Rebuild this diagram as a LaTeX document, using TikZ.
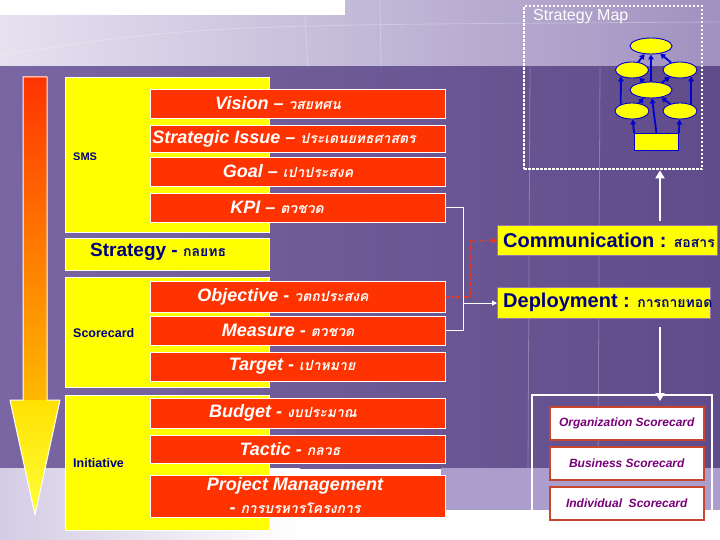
\documentclass[tikz,border=0pt]{standalone}
\usepackage{fontspec}
\setmainfont{Liberation Sans}
\newfontfamily\thaifont[Script=Thai]{Loma}
\usetikzlibrary{shapes.geometric,arrows.meta,calc}
\definecolor{cRed}{RGB}{255,51,0}
\definecolor{cYel}{RGB}{255,255,0}
\definecolor{cNavy}{RGB}{0,0,128}
\definecolor{purL}{RGB}{122,102,162}
\definecolor{purR}{RGB}{96,76,138}
\definecolor{topL}{RGB}{230,226,240}
\definecolor{topR}{RGB}{160,145,192}
\definecolor{lavB}{RGB}{212,204,228}
\definecolor{lPur}{RGB}{172,158,204}
\definecolor{scBord}{RGB}{200,70,45}
\definecolor{scText}{RGB}{120,0,120}
\definecolor{dRed}{RGB}{235,55,30}
\definecolor{mBlue}{RGB}{0,0,210}
\definecolor{comBord}{RGB}{150,120,175}
\newcommand\thx[1]{{\thaifont\fontsize{14}{16}\selectfont #1}}
\begin{document}
\begin{tikzpicture}[x=1pt,y=-1pt,
  ypanel/.style={draw=white, line width=0.8pt, fill=cYel, anchor=north west, inner sep=0},
  rbox/.style={draw=white, line width=0.8pt, fill=cRed, anchor=north west, minimum width=295pt, inner sep=0},
  rtxt/.style={text=white, inner sep=0, font=\fontsize{18}{23}\selectfont\bfseries\itshape},
  ylab/.style={text=cNavy, inner sep=0, anchor=west, font=\fontsize{12.5}{14}\selectfont\bfseries},
  cbox/.style={draw=comBord, line width=1.2pt, fill=cYel, anchor=north west, inner sep=0},
  ctxt/.style={text=cNavy, inner sep=0, anchor=west, font=\fontsize{20}{22}\selectfont\bfseries},
  sbox/.style={draw=scBord, line width=1.5pt, fill=white, anchor=north west, minimum width=154pt, minimum height=33pt, inner sep=0, text=scText, font=\fontsize{12}{14}\selectfont\bfseries\itshape},
  mell/.style={ellipse, draw=mBlue, line width=0.9pt, fill=cYel, inner sep=0},
  marr/.style={draw=mBlue, line width=1.8pt, -{Triangle[length=5pt,width=5.5pt]}},
  wline/.style={draw=white, line width=1.1pt},
  warr/.style={draw=white, line width=2.2pt, -{Triangle[length=8pt,width=9pt]}},
  wthin/.style={draw=white, line width=1.1pt, -{Triangle[length=5pt,width=5pt]}}]
\useasboundingbox (0,0) rectangle (720,540);
% background
\fill[white] (0,0) rectangle (720,540);
\shade[left color=topL, right color=topR] (0,0) rectangle (720,67);
\fill[white] (0,0) rectangle (345,15);
\shade[left color=purL, right color=purR] (0,67) rectangle (720,468);
\shade[left color=lavB, right color=white] (0,468) rectangle (300,540);
\fill[lPur] (441,468) rectangle (720,510);
\draw[white, opacity=0.25, line width=0.8pt] (305,15) -- (308,67) (380,0) -- (381,67) (530,67) -- (528,468) (600,67) -- (598,468) (0,55) .. controls (200,25) .. (720,22);
% left arrow
\shade[top color=cRed, middle color={rgb,255:red,255;green,140;blue,0}, bottom color={rgb,255:red,255;green,185;blue,0}] (23,77) rectangle (47,400);
\shade[top color={rgb,255:red,255;green,225;blue,0}, bottom color={rgb,255:red,255;green,255;blue,60}] (10,400) -- (60,400) -- (35,515) -- cycle;
\draw[white, line width=1pt, line join=round] (23,77) -- (47,77) -- (47,400) -- (60,400) -- (35,515) -- (10,400) -- (23,400) -- cycle;
% yellow panels
\node[ypanel, minimum width=204pt, minimum height=155pt] (smsp) at (65,77) {};
\node[ypanel, minimum width=204pt, minimum height=32pt] (stratp) at (65,238) {};
\node[ypanel, minimum width=204pt, minimum height=110pt] (scp) at (65,277) {};
\node[ypanel, minimum width=204pt, minimum height=135pt] (inip) at (65,395) {};
\node[ylab, font=\fontsize{11}{13}\selectfont\bfseries] (smst) at (73,157) {SMS};
\node[ylab, font=\fontsize{19}{21}\selectfont\bfseries] (stratt) at (90,252) {Strategy - \thx{กลยทธ}};
\node[ylab] (sct) at (73,333) {Scorecard};
\node[ylab] (init) at (73,463) {Initiative};
% red boxes
\node[rbox, minimum height=29pt] (vision) at (150,89) {};
\node[rbox, minimum height=27pt] (issue) at (150,125) {};
\node[rbox, minimum height=29pt] (goal) at (150,157) {};
\node[rbox, minimum height=29pt] (kpi) at (150,193) {};
\node[rbox, minimum height=31pt] (obj) at (150,281) {};
\node[rbox, minimum height=29pt] (meas) at (150,316) {};
\node[rbox, minimum height=29pt] (targ) at (150,352) {};
\node[rbox, minimum height=30pt] (budg) at (150,398) {};
\node[rbox, minimum height=28pt] (tact) at (150,435) {};
\node[rbox, minimum height=42pt] (pm) at (150,475) {};
\node[rtxt] (visiont) at (278,103.5) {Vision – \thx{วสยทศน}};
\node[rtxt] (issuet) at (284,138.5) {Strategic Issue – \thx{ประเดนยทธศาสตร}};
\node[rtxt] (goalt) at (288,171.5) {Goal – \thx{เปาประสงค}};
\node[rtxt] (kpit) at (277,207.5) {KPI – \thx{ตวชวด}};
\node[rtxt] (objt) at (283,296.5) {Objective - \thx{วตถประสงค}};
\node[rtxt] (meast) at (288,330.5) {Measure - \thx{ตวชวด}};
\node[rtxt] (targt) at (292,366.5) {Target - \thx{เปาหมาย}};
\node[rtxt] (budgt) at (283,413) {Budget - \thx{งบประมาณ}};
\node[rtxt] (tactt) at (290,449) {Tactic - \thx{กลวธ}};
\node[rtxt, align=center] (pmt) at (295,496) {Project Management\\- \thx{การบรหารโครงการ}};
% strategy map
\node[draw=white, line width=2.4pt, dash pattern=on 2.4pt off 1.6pt, anchor=north west, minimum width=178pt, minimum height=163pt, inner sep=0] (smap) at (523,5) {};
\node[text=white, anchor=west, inner sep=0, font=\fontsize{16}{18}\selectfont] (smapt) at (533,17) {Strategy Map};
\node[mell, minimum width=42pt, minimum height=16pt] (etop) at (651,46) {};
\node[mell, minimum width=33pt, minimum height=16pt] (eml) at (632,70) {};
\node[mell, minimum width=34pt, minimum height=16pt] (emr) at (680,70) {};
\node[mell, minimum width=42pt, minimum height=16pt] (ec) at (651,90) {};
\node[mell, minimum width=34pt, minimum height=16pt] (ell) at (632,111) {};
\node[mell, minimum width=34pt, minimum height=16pt] (elr) at (680,111) {};
\node[draw=mBlue, line width=0.9pt, fill=cYel, anchor=north west, minimum width=44pt, minimum height=17pt, inner sep=0] (mrect) at (634,133) {};
\draw[marr] (mrect.north) -- (ec);
\draw[marr] (ec) -- (etop);
\draw[marr] (mrect.north west) -- (ell);
\draw[marr] (mrect.north east) -- (elr);
\draw[marr] (ell.150) -- (eml.210);
\draw[marr] (ell) -- (ec);
\draw[marr] (elr) -- (ec);
\draw[marr] (elr.30) -- (emr.330);
\draw[marr] (ec) -- (eml);
\draw[marr] (ec) -- (emr);
\draw[marr] (eml) -- (etop);
\draw[marr] (emr) -- (etop);
% communication / deployment
\node[cbox, minimum width=220pt, minimum height=30pt] (comm) at (497,225) {};
\node[ctxt] (commt) at (503,240) {Communication : \thx{สอสาร}};
\node[cbox, minimum width=213pt, minimum height=31pt] (depl) at (497,287) {};
\node[ctxt] (deplt) at (503,302.5) {Deployment : \thx{การถายทอด}};
\coordinate (cup) at (660,221);
\draw[warr] (cup) -- (cup |- smap.south);
\coordinate (dd) at (660,327);
\coordinate (gtop) at (660,401);
\draw[warr] (dd) -- (gtop);
% connectors
\draw[wline] (kpi.east) -- ++(18,0) |- (meas.east);
\draw[wthin] ($(depl.west)+(-34,0)$) -- (depl.west);
\draw[dRed, line width=1.2pt, dash pattern=on 4pt off 2pt on 1pt off 2pt, -{Triangle[length=5pt,width=5pt]}] (obj.east) -- ++(25,0) |- (comm.west);
% scorecards
\draw[white, line width=1.3pt] (532,510) -- (532,395) -- (712,395) -- (712,510);
\node[sbox] (org) at (549,406) {Organization Scorecard};
\node[sbox] (bus) at (549,446) {Business Scorecard};
\node[sbox] (ind) at (549,486) {Individual\ \ Scorecard};
\end{tikzpicture}
\end{document}
